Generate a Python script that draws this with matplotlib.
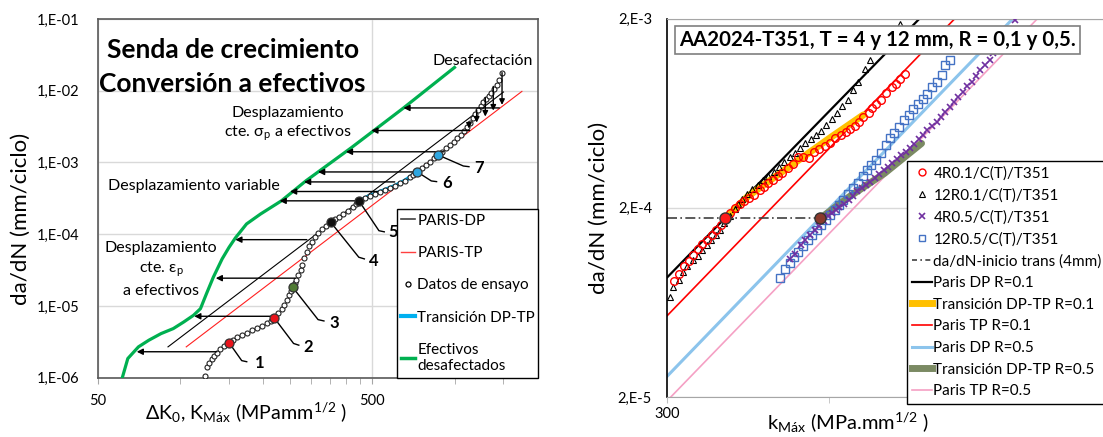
import numpy as np
import matplotlib
matplotlib.use('Agg')
import matplotlib.pyplot as plt
from matplotlib.lines import Line2D
from matplotlib.ticker import FixedLocator, FixedFormatter, NullLocator, NullFormatter

plt.rcParams['font.family'] = ['Lato', 'DejaVu Sans']
plt.rcParams['mathtext.fontset'] = 'custom'
plt.rcParams['mathtext.rm'] = 'Lato'
plt.rcParams['mathtext.it'] = 'Lato'
plt.rcParams['mathtext.bf'] = 'Lato:bold'
plt.rcParams['mathtext.fallback'] = 'stixsans'

# ---------------- LEFT PANEL DATA ----------------
green_K = [61.4, 64.4, 70.4, 76.8, 85.1, 94.3, 102.9, 111.7, 118.4, 124.5, 131.9, 142.0,
           150.5, 158.6, 174.2, 195.8, 233.3, 286.3, 418.7, 649.2, 1006]
green_y = [0.98e-6, 1.85e-6, 2.69e-6, 3.33e-6, 4.12e-6, 4.84e-6, 5.98e-6, 7.41e-6, 9.17e-6,
           1.48e-5, 2.52e-5, 4.53e-5, 6.58e-5, 8.86e-5, 1.39e-4, 1.91e-4, 2.92e-4, 5.53e-4,
           1.60e-3, 5.75e-3, 2.18e-2]

test_K = [123.0, 125.4, 127.5, 130.1, 132.9, 135.7, 139.5, 144.3, 150.4, 155.9, 161.3, 167.3,
          174.5, 182.0, 189.8, 197.9, 206.4, 213.4, 219.4, 227.4, 234.0, 239.1, 243.9, 249.3,
          252.9, 256.5, 260.6, 263.7, 268.8, 274.3, 278.4, 282.0, 288.4, 294.8, 300.9, 309.3,
          318.0, 327.2, 339.1, 352.8, 365.7, 379.1, 392.0, 408.8, 424.2, 436.1, 448.3, 470.2,
          490.3, 511.3, 533.2, 556.0, 579.9, 604.7, 630.6, 657.7, 685.8, 705.0, 725.4, 756.5,
          784.3, 810.9, 838.6, 865.0, 894.4, 927.2, 959.0, 992.0, 1019.8, 1049.4, 1078.9,
          1109.2, 1134.8, 1160.7, 1186.4, 1213.5, 1241.2, 1268.7, 1297.6, 1327.2, 1356.6,
          1387.6, 1419.3, 1450.7, 1483.8]
test_y = [1.07e-6, 1.40e-6, 1.59e-6, 1.81e-6, 2.01e-6, 2.23e-6, 2.49e-6, 2.77e-6, 3.08e-6,
          3.36e-6, 3.66e-6, 3.94e-6, 4.24e-6, 4.63e-6, 4.89e-6, 5.26e-6, 5.74e-6, 6.24e-6,
          6.87e-6, 7.91e-6, 8.99e-6, 1.03e-5, 1.21e-5, 1.42e-5, 1.62e-5, 1.82e-5, 2.06e-5,
          2.31e-5, 2.71e-5, 3.18e-5, 3.73e-5, 4.67e-5, 5.66e-5, 6.87e-5, 7.89e-5, 9.26e-5,
          1.053e-4, 1.174e-4, 1.305e-4, 1.47e-4, 1.62e-4, 1.76e-4, 1.92e-4, 2.13e-4, 2.38e-4,
          2.60e-4, 2.87e-4, 3.18e-4, 3.42e-4, 3.65e-4, 3.89e-4, 4.15e-4, 4.42e-4, 4.72e-4,
          5.14e-4, 5.59e-4, 6.24e-4, 6.71e-4, 7.47e-4, 8.33e-4, 9.26e-4, 1.02e-3, 1.15e-3,
          1.28e-3, 1.42e-3, 1.58e-3, 1.76e-3, 1.96e-3, 2.18e-3, 2.43e-3, 2.76e-3, 3.17e-3,
          3.60e-3, 4.15e-3, 4.76e-3, 5.41e-3, 6.16e-3, 6.93e-3, 7.71e-3, 8.49e-3, 9.44e-3,
          1.05e-2, 1.21e-2, 1.42e-2, 1.79e-2]

pdp_K = [90.2, 1501]
pdp_y = [2.69e-6, 9.6e-3]
ptp_K = [105.1, 1752]
ptp_y = [2.69e-6, 9.8e-3]

hl_idx = [8, 18, 25, 39, 46, 58, 63]
hl_col = ['#e8141c', '#e8141c', '#4f7a34', '#111111', '#111111', '#2ea6e0', '#2ea6e0']
hl_lab = ['1', '2', '3', '4', '5', '6', '7']
lead_K1 = [167.3, 258.4, 317.3, 446.4, 528.5, 819.8, 1072.6]
lead_y1 = [1.73e-6, 3.00e-6, 6.45e-6, 4.78e-5, 1.12e-4, 5.53e-4, 8.93e-4]
lead_K2 = [174.5, 270.0, 333.3, 467.7, 552.7, 856.8, 1124.0]
lead_y2 = [1.67e-6, 2.84e-6, 6.18e-6, 4.53e-5, 1.08e-4, 5.41e-4, 8.74e-4]
lab_K = [187.1, 279.6, 349.3, 487.3, 574.1, 900.4, 1171.1]
lab_y = [1.59e-6, 2.69e-6, 5.80e-6, 4.29e-5, 1.06e-4, 5.24e-4, 8.47e-4]

trans_first, trans_last = 46, 58

arr_y = [2.30e-6, 7.18e-6, 2.44e-5, 8.4e-5, 2.92e-4, 3.94e-4, 5.36e-4, 7.38e-4, 1.41e-3, 2.79e-3, 5.76e-3]
arr_K0 = [135.9, 220.0, 262.2, 288.8, 457.1, 521.3, 603.2, 719.0, 908.3, 1130.8, 1449.8]
arr_K1 = [69.4, 112.4, 134.6, 158.6, 229.9, 250.9, 282.1, 317.3, 400.7, 495.9, 649.1]

varr_K = [1124, 1199, 1289, 1378, 1483]
varr_y0 = [3.6e-3, 5.4e-3, 8.0e-3, 1.15e-2, 1.79e-2]
varr_y1 = [2.97e-3, 3.60e-3, 4.37e-3, 5.29e-3, 6.36e-3]

left_xmajor = [50, 500]
left_xminor = [100, 150, 200, 250, 300, 350, 400, 450, 1000, 1500]
left_yticks = [1e-6, 1e-5, 1e-4, 1e-3, 1e-2, 1e-1]
left_ylabels = ['1,E-06', '1,E-05', '1,E-04', '1,E-03', '1,E-02', '1,E-01']

# ---------------- RIGHT PANEL DATA ----------------
r01_4_K = [308.7, 314.8, 322.0, 329.4, 334.3, 342.0, 348.3, 355.2, 363.3, 369.9, 377.1, 384.0,
           391.6, 400.6, 409.8, 417.2, 425.5, 435.2, 445.2, 454.1, 462.3, 470.8, 482.2, 491.0,
           502.3, 513.8, 525.5, 535.9, 549.9, 562.5, 575.3, 588.4, 601.9, 615.6, 629.7, 644.1,
           655.8, 668.8, 682.0, 694.5, 710.3, 721.2, 732.1, 748.8, 765.9, 783.5, 797.8, 813.6, 828.4]
r01_4_y = [8.18e-5, 8.97e-5, 9.81e-5, 1.051e-4, 1.130e-4, 1.211e-4, 1.286e-4, 1.345e-4, 1.441e-4,
           1.531e-4, 1.627e-4, 1.757e-4, 1.875e-4, 1.992e-4, 2.10e-4, 2.16e-4, 2.25e-4, 2.34e-4,
           2.49e-4, 2.59e-4, 2.70e-4, 2.81e-4, 2.95e-4, 3.05e-4, 3.24e-4, 3.41e-4, 3.70e-4, 3.73e-4,
           3.68e-4, 3.96e-4, 4.08e-4, 4.25e-4, 4.42e-4, 4.66e-4, 4.85e-4, 5.05e-4, 5.20e-4, 5.41e-4,
           5.70e-4, 6.06e-4, 6.31e-4, 6.71e-4, 7.07e-4, 7.42e-4, 8.11e-4, 8.66e-4, 9.01e-4, 9.54e-4,
           1.018e-3]

r01_12_K = [303.2, 307.8, 314.8, 321.1, 326.9, 334.3, 342.0, 348.3, 355.2, 362.2, 368.8, 375.4,
            382.9, 391.6, 400.6, 406.7, 412.9, 422.3, 431.9, 441.8, 452.0, 462.3, 473.0, 483.8,
            494.9, 506.2, 517.8, 529.6, 541.8, 554.2, 566.6, 579.6, 592.9, 606.4, 620.3, 634.5,
            648.9, 663.9, 679.1, 699.7, 715.7, 811.1]
r01_12_y = [6.73e-5, 7.63e-5, 8.35e-5, 9.12e-5, 9.81e-5, 1.064e-4, 1.117e-4, 1.201e-4, 1.276e-4,
            1.356e-4, 1.441e-4, 1.531e-4, 1.660e-4, 1.800e-4, 1.968e-4, 2.10e-4, 2.22e-4, 2.37e-4,
            2.51e-4, 2.64e-4, 2.81e-4, 2.95e-4, 3.11e-4, 3.30e-4, 3.48e-4, 3.70e-4, 3.91e-4, 4.13e-4,
            4.38e-4, 4.60e-4, 4.85e-4, 5.09e-4, 5.48e-4, 5.87e-4, 6.31e-4, 6.90e-4, 7.42e-4, 8.38e-4,
            9.27e-4, 1.077e-3, 1.206e-3, 1.882e-3]

r05_4_K = [506.2, 517.8, 531.1, 541.8, 552.2, 563.8, 575.3, 586.7, 597.4, 606.2, 617.5, 626.8,
           639.2, 651.8, 663.9, 676.1, 689.4, 701.7, 715.7, 728.8, 743.2, 758.0, 771.7, 785.8,
           801.3, 817.1, 832.0, 847.2, 863.9, 881.0, 897.1, 913.5, 931.7, 950.2, 967.5, 985.1,
           1004.5, 1024.3, 1043.1, 1062.0, 1083.0, 1104.7, 1124.7, 1145.3, 1168.0, 1194.6, 1209.0,
           1327.4]
r05_4_y = [1.072e-4, 1.144e-4, 1.276e-4, 1.356e-4, 1.441e-4, 1.531e-4, 1.607e-4, 1.694e-4,
           1.800e-4, 1.875e-4, 1.952e-4, 2.03e-4, 2.10e-4, 2.20e-4, 2.31e-4, 2.44e-4, 2.54e-4,
           2.64e-4, 2.75e-4, 2.87e-4, 3.02e-4, 3.17e-4, 3.30e-4, 3.44e-4, 3.61e-4, 3.81e-4, 3.96e-4,
           4.13e-4, 4.35e-4, 4.60e-4, 4.85e-4, 5.15e-4, 5.41e-4, 5.70e-4, 6.06e-4, 6.44e-4, 6.85e-4,
           7.27e-4, 7.73e-4, 8.21e-4, 8.79e-4, 9.27e-4, 9.93e-4, 1.068e-3, 1.135e-3, 1.215e-3,
           1.308e-3, 1.960e-3]

r05_12_K = [485.9, 496.2, 506.2, 515.4, 525.5, 535.9, 548.2, 558.2, 569.2, 579.6, 591.1, 601.9,
            613.8, 625.0, 637.4, 651.1, 663.9, 679.1, 692.5, 704.9, 717.8, 732.1, 748.8, 763.6,
            777.6, 793.0, 807.4, 825.9, 842.2, 857.6, 877.2, 894.5, 910.9, 931.7, 953.0, 970.4,
            985.1, 1007.6]
r05_12_y = [8.52e-5, 9.50e-5, 1.022e-4, 1.099e-4, 1.163e-4, 1.251e-4, 1.356e-4, 1.441e-4,
            1.531e-4, 1.627e-4, 1.729e-4, 1.837e-4, 1.952e-4, 2.07e-4, 2.20e-4, 2.36e-4, 2.54e-4,
            2.70e-4, 2.93e-4, 3.17e-4, 3.37e-4, 3.58e-4, 3.91e-4, 4.30e-4, 4.66e-4, 4.99e-4,
            5.37e-4, 5.82e-4, 6.19e-4, 6.63e-4, 7.04e-4, 7.48e-4, 7.95e-4, 8.66e-4, 9.27e-4,
            1.005e-3, 1.135e-3, 1.215e-3]

pdp01_K = [300, 883]
pdp01_y = [8.59e-5, 2e-3]
ptp01_K = [300, 1027]
ptp01_y = [5.39e-5, 2e-3]
pdp05_K = [300, 1317]
pdp05_y = [2.58e-5, 2e-3]
ptp05_K = [304.5, 1463]
ptp05_y = [2e-5, 2e-3]

tr01_K = [384.0, 422.8, 476.7, 537.6, 606.2, 694.0]
tr01_y = [1.757e-4, 2.29e-4, 2.93e-4, 3.73e-4, 4.75e-4, 6.19e-4]
tr05_K = [577.0, 653.8, 760.9, 890.5]
tr05_y = [1.757e-4, 2.29e-4, 3.05e-4, 4.38e-4]

trans_start_y = 1.757e-4
hline_K = [300, 579]
start_K = [384.0, 577.0]
start_col = ['#ff1a1a', '#8b3a2c']

right_yticks = [2e-5, 2e-4, 2e-3]
right_ylabels = ['2,E-5', '2,E-4', '2,E-3']
right_xminor = [600, 900, 1200, 1500, 1800]

# ---------------- FIGURE ----------------
fig = plt.figure(figsize=(11.03, 4.37), dpi=100)

# ---------- left ----------
ax1 = fig.add_axes([0.0885, 0.1357, 0.399, 0.8208])
ax1.set_xscale('log')
ax1.set_yscale('log')
ax1.set_xlim(50, 2000)
ax1.set_ylim(1e-6, 1e-1)
ax1.xaxis.set_major_locator(FixedLocator(left_xmajor))
ax1.xaxis.set_major_formatter(FixedFormatter([str(v) for v in left_xmajor]))
ax1.xaxis.set_minor_locator(FixedLocator(left_xminor))
ax1.xaxis.set_minor_formatter(NullFormatter())
ax1.yaxis.set_major_locator(FixedLocator(left_yticks))
ax1.yaxis.set_major_formatter(FixedFormatter(left_ylabels))
ax1.yaxis.set_minor_locator(NullLocator())
ax1.grid(True, which='major', color='#d9d9d9', lw=1.0, zorder=0)
ax1.set_axisbelow(True)
ax1.tick_params(axis='x', which='both', direction='out', length=4, color='#a6a6a6',
                labelsize=10.5, pad=8)
ax1.tick_params(axis='y', which='both', length=0, labelsize=10.5, pad=13)
for s in ax1.spines.values():
    s.set_color('#595959')
    s.set_linewidth(1.2)

ax1.plot(green_K, green_y, color='#00b050', lw=2.3, zorder=3, solid_capstyle='butt')
ax1.plot(pdp_K, pdp_y, color='black', lw=0.8, zorder=3)
ax1.plot(ptp_K, ptp_y, color='#ff2020', lw=0.8, zorder=3)
ax1.plot(test_K[trans_first:trans_last + 1], test_y[trans_first:trans_last + 1],
         color='#00b0f0', lw=3, zorder=4)
ax1.plot(test_K, test_y, ls='none', marker='o', ms=3.6, mfc='white', mec='#222222',
         mew=0.8, zorder=5)

for yv, k0, k1 in zip(arr_y, arr_K0, arr_K1):
    ax1.annotate('', xy=(k1, yv), xytext=(k0, yv),
                 arrowprops=dict(arrowstyle='-|>', color='black', lw=1.0,
                                 mutation_scale=9, shrinkA=0, shrinkB=0), zorder=6)
for k, y0, y1 in zip(varr_K, varr_y0, varr_y1):
    ax1.annotate('', xy=(k, y1), xytext=(k, y0),
                 arrowprops=dict(arrowstyle='-|>', color='black', lw=1.0,
                                 mutation_scale=8, shrinkA=0, shrinkB=0), zorder=6)

for i, c, lab, k1, y1, k2, y2, lk, ly in zip(hl_idx, hl_col, hl_lab, lead_K1, lead_y1,
                                            lead_K2, lead_y2, lab_K, lab_y):
    ax1.plot([test_K[i], k1, k2], [test_y[i], y1, y2], color='black', lw=1.0, zorder=6)
    ax1.plot([test_K[i]], [test_y[i]], marker='o', ms=6.5, mfc=c, mec='#333333', mew=0.9,
             zorder=7)
    ax1.text(lk, ly, lab, fontsize=12, fontweight='bold', ha='left', va='center', zorder=7)

ax1.text(0.307, 0.914, 'Senda de crecimiento', transform=ax1.transAxes, ha='center',
         va='center', fontsize=19, fontweight='bold')
ax1.text(0.307, 0.819, 'Conversión a efectivos', transform=ax1.transAxes, ha='center',
         va='center', fontsize=19, fontweight='bold')
ax1.text(0.876, 0.883, 'Desafectación', transform=ax1.transAxes, ha='center', va='center',
         fontsize=11.5)
ax1.text(0.432, 0.739, 'Desplazamiento', transform=ax1.transAxes, ha='center', va='center',
         fontsize=11.5)
ax1.text(0.432, 0.680, 'cte. σ$_\\mathregular{p}$ a efectivos', transform=ax1.transAxes,
         ha='center', va='center', fontsize=11.5)
ax1.text(0.218, 0.535, 'Desplazamiento variable', transform=ax1.transAxes, ha='center',
         va='center', fontsize=11.5)
ax1.text(0.144, 0.362, 'Desplazamiento', transform=ax1.transAxes, ha='center', va='center',
         fontsize=11.5)
ax1.text(0.144, 0.301, 'cte. ε$_\\mathregular{p}$', transform=ax1.transAxes, ha='center',
         va='center', fontsize=11.5)
ax1.text(0.144, 0.242, 'a efectivos', transform=ax1.transAxes, ha='center', va='center',
         fontsize=11.5)

ax1.text(-0.174, 0.4424, 'da/dN (mm/ciclo)', transform=ax1.transAxes, rotation=90,
         ha='center', va='center', fontsize=16)
ax1.text(0.338, -0.098, 'ΔK$_\\mathregular{0}$, K$_\\mathregular{Máx}$ (MPamm$^\\mathregular{1/2}$ )',
         transform=ax1.transAxes, ha='center', va='center', fontsize=14.2)

h1 = [Line2D([], [], color='#404040', lw=1.2),
      Line2D([], [], color='#ff4040', lw=1.0),
      Line2D([], [], ls='none', marker='o', ms=3.6, mfc='white', mec='black', mew=0.9),
      Line2D([], [], color='#00b0f0', lw=3),
      Line2D([], [], color='#00b050', lw=2.5)]
l1 = ['PARIS-DP', 'PARIS-TP', 'Datos de ensayo', 'Transición DP-TP', 'Efectivos\ndesafectados']
leg1 = ax1.legend(h1, l1, loc='lower left', bbox_to_anchor=(0.6796, 0.0, 0.3204, 0.4695),
                  mode='expand', borderaxespad=0, fontsize=11, labelspacing=1.2,
                  handlelength=0.9, handletextpad=0.15, borderpad=0.3, fancybox=False,
                  edgecolor='black', framealpha=1)
leg1.get_frame().set_linewidth(1.0)

# ---------- right ----------
ax2 = fig.add_axes([0.605, 0.0915, 0.395, 0.866])
ax2.set_xscale('log')
ax2.set_yscale('log')
ax2.set_xlim(300, 1936)
ax2.set_ylim(2e-5, 2e-3)
ax2.xaxis.set_major_locator(FixedLocator([300]))
ax2.xaxis.set_major_formatter(FixedFormatter(['300']))
ax2.xaxis.set_minor_locator(FixedLocator(right_xminor))
ax2.xaxis.set_minor_formatter(NullFormatter())
ax2.yaxis.set_major_locator(FixedLocator(right_yticks))
ax2.yaxis.set_major_formatter(FixedFormatter(right_ylabels))
ax2.yaxis.set_minor_locator(NullLocator())
ax2.grid(True, axis='y', which='major', color='#d9d9d9', lw=1.0)
ax2.set_axisbelow(True)
ax2.tick_params(axis='x', which='both', direction='out', length=4, color='#bfbfbf',
                labelsize=10.5, pad=3)
ax2.tick_params(axis='y', which='both', length=0, labelsize=10.5, pad=11)
ax2.spines['right'].set_visible(False)
ax2.spines['left'].set_color('black')
ax2.spines['left'].set_linewidth(1.2)
ax2.spines['top'].set_color('#a6a6a6')
ax2.spines['bottom'].set_color('#a6a6a6')

ax2.plot(pdp05_K, pdp05_y, color='#8cc4ec', lw=2.2, zorder=2)
ax2.plot(ptp05_K, ptp05_y, color='#f5a0c4', lw=1.2, zorder=2)
ax2.plot(pdp01_K, pdp01_y, color='black', lw=1.6, zorder=2)
ax2.plot(ptp01_K, ptp01_y, color='#ff0000', lw=1.2, zorder=2)
ax2.plot(tr01_K, tr01_y, color='#ffc000', lw=5, zorder=2, solid_capstyle='round')
ax2.plot(tr05_K, tr05_y, color='#7b8a63', lw=5, zorder=2, solid_capstyle='round')
ax2.plot(hline_K, [trans_start_y, trans_start_y], color='#404040', lw=1.2,
         ls=(0, (6, 2, 1, 2)), zorder=2)

ax2.plot(r01_12_K, r01_12_y, ls='none', marker='^', ms=4.2, mfc='none', mec='black',
         mew=0.8, zorder=3)
ax2.plot(r01_4_K, r01_4_y, ls='none', marker='o', ms=5.5, mfc='none', mec='#ff0000',
         mew=1.0, zorder=3)
ax2.plot(r05_12_K, r05_12_y, ls='none', marker='s', ms=5.5, mfc='none', mec='#4472c4',
         mew=1.0, zorder=3)
ax2.plot(r05_4_K, r05_4_y, ls='none', marker='x', ms=4.5, color='#7030a0', mew=1.2, zorder=3)
for k, c in zip(start_K, start_col):
    ax2.plot([k], [trans_start_y], marker='o', ms=8, mfc=c, mec='#333333', mew=1.0, zorder=4)

ax2.text(0.0269, 0.943, 'AA2024-T351, T = 4 y 12 mm, R = 0,1 y 0,5.', transform=ax2.transAxes,
         ha='left', va='center', fontsize=14.7, fontweight='bold', zorder=10,
         bbox=dict(boxstyle='square,pad=0.2', fc='white', ec='#7f7f7f', lw=1.2))

ax2.text(-0.157, 0.5, 'da/dN (mm/ciclo)', transform=ax2.transAxes, rotation=90,
         ha='center', va='center', fontsize=16)
ax2.text(0.414, -0.0687, 'k$_\\mathregular{Máx}$ (MPa.mm$^\\mathregular{1/2}$ )',
         transform=ax2.transAxes, ha='center', va='center', fontsize=14.5)

h2 = [Line2D([], [], ls='none', marker='o', ms=5, mfc='none', mec='#ff0000', mew=1.0),
      Line2D([], [], ls='none', marker='^', ms=4, mfc='none', mec='black', mew=0.8),
      Line2D([], [], ls='none', marker='x', ms=4.5, color='#7030a0', mew=1.2),
      Line2D([], [], ls='none', marker='s', ms=5, mfc='none', mec='#4472c4', mew=1.0),
      Line2D([], [], color='#404040', lw=1.2, ls=(0, (3, 2, 1, 2))),
      Line2D([], [], color='black', lw=1.6),
      Line2D([], [], color='#ffc000', lw=5),
      Line2D([], [], color='#ff0000', lw=1.2),
      Line2D([], [], color='#8cc4ec', lw=2.2),
      Line2D([], [], color='#7b8a63', lw=5),
      Line2D([], [], color='#f5a0c4', lw=1.2)]
l2 = ['4R0.1/C(T)/T351', '12R0.1/C(T)/T351', '4R0.5/C(T)/T351', '12R0.5/C(T)/T351',
      'da/dN-inicio trans (4mm)', 'Paris DP R=0.1', 'Transición DP-TP R=0.1', 'Paris TP R=0.1',
      'Paris DP R=0.5', 'Transición DP-TP R=0.5', 'Paris TP R=0.5']
leg2 = ax2.legend(h2, l2, loc='upper left', bbox_to_anchor=(0.5494, 0.6243), borderaxespad=0,
                  fontsize=11, labelspacing=0.5, handlelength=1.3, handletextpad=0.1,
                  borderpad=0.35, fancybox=False, edgecolor='black', framealpha=1)
leg2.get_frame().set_linewidth(1.0)

fig.savefig('out.png', dpi=100)
